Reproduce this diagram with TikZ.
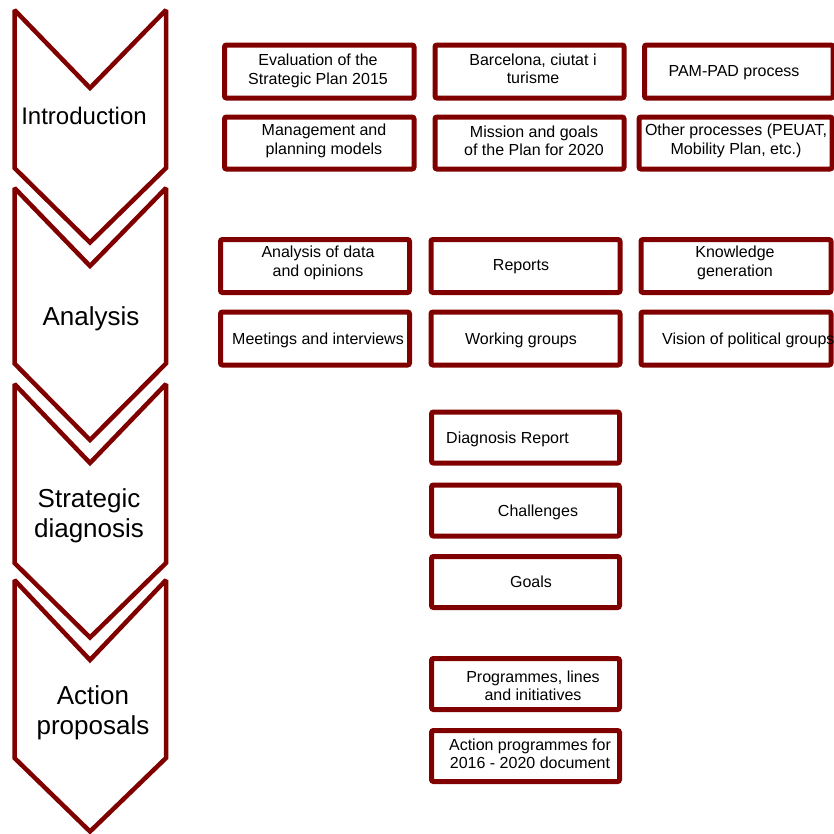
\documentclass[tikz,border=0pt]{standalone}
\usepackage{fontspec}
\setmainfont{Liberation Sans}
\definecolor{maroon}{RGB}{128,0,0}
\begin{document}
\begin{tikzpicture}[x=1pt,y=-1pt,
  box/.style={draw=maroon, line width=5pt, rounded corners=2pt, inner sep=0pt},
  chev/.style={draw=maroon, line width=4.5pt, line join=miter, miter limit=2},
  btxt/.style={font=\fontsize{16}{18.5}\selectfont, align=center, inner sep=0pt, text=black},
  ctxt/.style={font=\fontsize{26}{30}\selectfont, align=center, inner sep=0pt, text=black}]
\clip (0,0) rectangle (834,833);
\fill[white] (0,0) rectangle (834,833);
% chevrons
\draw[chev] (14.5,10) -- (90,88) -- (166,10) -- (166,168) -- (90,242.5) -- (14.5,168) -- cycle;
\draw[chev] (14.5,188) -- (90,266) -- (166,188) -- (166,363.5) -- (90,440) -- (14.5,363.5) -- cycle;
\draw[chev] (14.5,384) -- (90,463) -- (166,384) -- (166,563) -- (90,637.5) -- (14.5,563) -- cycle;
\draw[chev] (14.5,580) -- (90,660) -- (166,580) -- (166,758) -- (90,831.5) -- (14.5,758) -- cycle;
\node[ctxt, font=\fontsize{24}{28}\selectfont] (cIntro) at (84,116) {Introduction};
\node[ctxt] (cAnal) at (91,319) {Analysis};
\node[ctxt] (cDiag) at (89,516) {Strategic\\diagnosis};
\node[ctxt] (cAct) at (93,713) {Action\\proposals};
% row 1
\node[box, minimum width=189.5pt, minimum height=53pt] (r1a) at (319.25,71.5) {};
\node[box, minimum width=189pt, minimum height=53pt] (r1b) at (529.5,71.5) {};
\node[box, minimum width=188.5pt, minimum height=53pt] (r1c) at (738.75,71.5) {};
\node[btxt] (t1a) at (318,71) {Evaluation of the\\Strategic Plan 2015};
\node[btxt] (t1b) at (533,69) {Barcelona, ciutat i\\turisme};
\node[btxt] (t1c) at (734,73) {PAM-PAD process};
% row 2
\node[box, minimum width=189.5pt, minimum height=52pt] (r2a) at (319.25,143) {};
\node[box, minimum width=189pt, minimum height=52pt] (r2b) at (529.5,143) {};
\node[box, minimum width=193pt, minimum height=52pt] (r2c) at (735.5,143) {};
\node[btxt] (t2a) at (324,141) {Management and\\planning models};
\node[btxt] (t2b) at (534,141) {Mission and goals\\of the Plan for 2020};
\node[btxt] (t2c) at (736,141) {Other processes (PEUAT,\\Mobility Plan, etc.)};
% row 3
\node[box, minimum width=189pt, minimum height=53pt] (r3a) at (315,266) {};
\node[box, minimum width=189pt, minimum height=53pt] (r3b) at (525.5,266) {};
\node[box, minimum width=190pt, minimum height=53pt] (r3c) at (736,266) {};
\node[btxt] (t3a) at (318,263) {Analysis of data\\and opinions};
\node[btxt] (t3b) at (521,267) {Reports};
\node[btxt] (t3c) at (735,263) {Knowledge\\generation};
% row 4
\node[box, minimum width=189pt, minimum height=53pt] (r4a) at (315,338.5) {};
\node[box, minimum width=189pt, minimum height=53pt] (r4b) at (525.5,338.5) {};
\node[box, minimum width=190pt, minimum height=53pt] (r4c) at (736,338.5) {};
\node[btxt] (t4a) at (318,340) {Meetings and interviews};
\node[btxt] (t4b) at (521,340) {Working groups};
\node[btxt, anchor=west] (t4c) at (662,340) {Vision of political groups};
% diagnosis column
\node[box, minimum width=188pt, minimum height=51pt] (d1) at (525.5,437.5) {};
\node[box, minimum width=188pt, minimum height=51pt] (d2) at (525.5,510.5) {};
\node[box, minimum width=188pt, minimum height=51pt] (d3) at (525.5,582) {};
\node[box, minimum width=188pt, minimum height=51pt] (d4) at (525.5,684) {};
\node[box, minimum width=188pt, minimum height=51pt] (d5) at (525.5,756) {};
\node[btxt, anchor=west] (e1) at (446,439) {Diagnosis Report};
\node[btxt] (e2) at (538,512) {Challenges};
\node[btxt] (e3) at (531,582) {Goals};
\node[btxt] (e4) at (533,686) {Programmes, lines\\and initiatives};
\node[btxt] (e5) at (530,754) {Action programmes for\\2016 - 2020 document};
\end{tikzpicture}
\end{document}
